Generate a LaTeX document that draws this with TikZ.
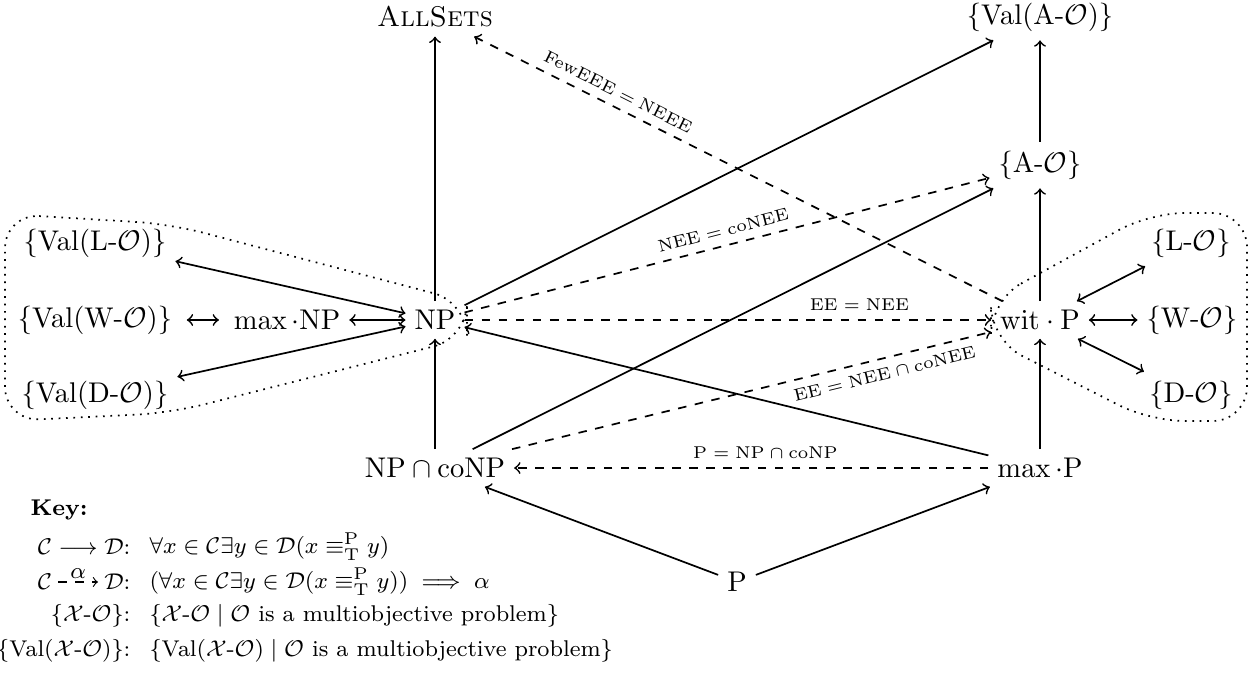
\documentclass[tikz,border=0pt]{standalone}
\usepackage{amsmath,amssymb}
\begin{document}
\begin{tikzpicture}[x=0.351pt,y=-0.351pt,
  every node/.style={inner sep=3pt},
  arr/.style={->,semithick},
  darr/.style={->,semithick,dashed},
  biarr/.style={<->,semithick},
  lbl/.style={font=\fontsize{6}{7}\selectfont},
  grp/.style={semithick,dotted,rounded corners=12pt},
  keyl/.style={anchor=east,inner sep=0pt,font=\footnotesize},
  keyr/.style={anchor=west,inner sep=0pt,font=\footnotesize}]
\useasboundingbox (0,0) rectangle (1253,676);
% main nodes
\node (AllSets) at (435,17) {\textsc{AllSets}};
\node (ValA) at (1040,17) {\{Val(A-$\mathcal{O}$)\}};
\node (AO) at (1040,165) {\{A-$\mathcal{O}$\}};
\node (NP) at (435,320) {NP};
\node (maxNP) at (287,320) {$\max\cdot\mathrm{NP}$};
\node (ValW) at (95,320) {\{Val(W-$\mathcal{O}$)\}};
\node (ValL) at (95,243) {\{Val(L-$\mathcal{O}$)\}};
\node (ValD) at (95,395) {\{Val(D-$\mathcal{O}$)\}};
\node (witP) at (1040,320) {$\mathrm{wit}\cdot\mathrm{P}$};
\node (LO) at (1191,243) {\{L-$\mathcal{O}$\}};
\node (WO) at (1192,320) {\{W-$\mathcal{O}$\}};
\node (DO) at (1191,395) {\{D-$\mathcal{O}$\}};
\node (NPc) at (435,468) {$\mathrm{NP}\cap\mathrm{coNP}$};
\node (maxP) at (1040,468) {$\max\cdot\mathrm{P}$};
\node (P) at (737,582) {P};
% groups
\draw[grp] (5,214) -- (170,224) -- (467,302) -- (467,338) -- (170,413) -- (5,421) -- cycle;
\draw[grp] (991,300) -- (1150,213) -- (1247,213) -- (1247,421) -- (1150,421) -- (991,340) -- cycle;
% solid arrows
\draw[arr] (NP) -- (AllSets);
\draw[arr] (NP) -- (ValA);
\draw[arr] (AO) -- (ValA);
\draw[arr] (witP) -- (AO);
\draw[arr] (NPc) -- (NP);
\draw[arr] (NPc) -- (AO);
\draw[arr] (maxP) -- (NP);
\draw[arr] (maxP) -- (witP);
\draw[arr] (P) -- (NPc);
\draw[arr] (P) -- (maxP);
% equivalences
\draw[biarr] (NP) -- (ValL);
\draw[biarr] (NP) -- (ValD);
\draw[biarr] (maxNP) -- (NP);
\draw[biarr,shorten <=2pt,shorten >=2pt] (ValW) -- (maxNP);
\draw[biarr] (witP) -- (LO);
\draw[biarr] (witP) -- (WO);
\draw[biarr] (witP) -- (DO);
% dashed arrows
\draw[darr] (NP) -- node[lbl,above,pos=0.75] {$\mathrm{EE}=\mathrm{NEE}$} (witP);
\draw[darr] (NP) -- node[lbl,above,sloped] {$\mathrm{NEE}=\mathrm{coNEE}$} (AO);
\draw[darr] (NPc) -- node[lbl,below,sloped,pos=0.77] {$\mathrm{EE}=\mathrm{NEE}\cap\mathrm{coNEE}$} (witP);
\draw[darr] (witP) -- node[lbl,above,sloped,pos=0.74] {$\mathrm{FewEEE}=\mathrm{NEEE}$} (AllSets);
\draw[darr] (maxP) -- node[lbl,above,pos=0.47] {$\mathrm{P}=\mathrm{NP}\cap\mathrm{coNP}$} (NPc);
% key
\node[anchor=west,inner sep=0pt,font=\footnotesize\bfseries] (key) at (30,510) {Key:};
\node[keyl] (k1l) at (131,547) {$\mathcal{C}\longrightarrow\mathcal{D}$:};
\node[keyr] (k1r) at (149,547) {$\forall x\in\mathcal{C}\exists y\in\mathcal{D}(x\equiv^{\mathrm{P}}_{\mathrm{T}}y)$};
\node[keyl] (k2D) at (131,582) {$\mathcal{D}$:};
\node[anchor=west,inner sep=0pt,font=\footnotesize] (k2C) at (k1l.west |- k2D.west) {$\mathcal{C}$};
\draw[->,dashed,thin,shorten <=2pt,shorten >=2pt] (k2C) -- node[above=0pt,inner sep=1pt,font=\footnotesize] {$\alpha$} (k2D);
\node[keyr] (k2r) at (149,582) {$(\forall x\in\mathcal{C}\exists y\in\mathcal{D}(x\equiv^{\mathrm{P}}_{\mathrm{T}}y))\implies\alpha$};
\node[keyl] (k3l) at (131,616) {$\{\mathcal{X}\text{-}\mathcal{O}\}$:};
\node[keyr] (k3r) at (149,616) {$\{\mathcal{X}\text{-}\mathcal{O}\mid\mathcal{O}$ is a multiobjective problem$\}$};
\node[keyl] (k4l) at (131,651) {$\{\mathrm{Val}(\mathcal{X}\text{-}\mathcal{O})\}$:};
\node[keyr] (k4r) at (149,651) {$\{\mathrm{Val}(\mathcal{X}\text{-}\mathcal{O})\mid\mathcal{O}$ is a multiobjective problem$\}$};
\end{tikzpicture}
\end{document}
